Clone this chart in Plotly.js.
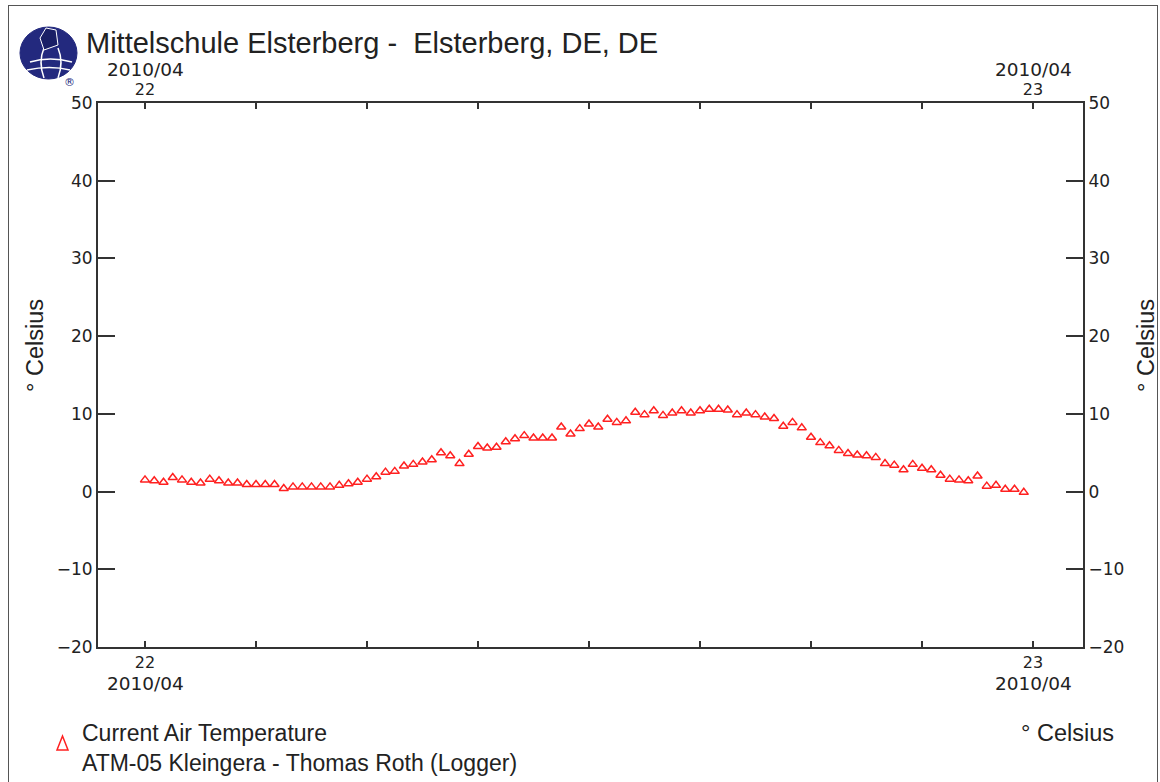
<!DOCTYPE html>
<html><head><meta charset="utf-8">
<script src="https://cdn.plot.ly/plotly-3.0.1.min.js"></script>
<style>
html,body{margin:0;padding:0;background:#fff;overflow:hidden;}
#frame{position:absolute;left:8px;top:5px;width:1148px;height:800px;border:1px solid #555;border-bottom:none;}
#chart{position:absolute;left:0;top:0;width:1160px;height:782px;}
</style></head><body>
<div id="frame"></div>
<div id="chart"></div>
<script>
// ---- data ----
const startTime = Date.UTC(2010, 3, 22, 0, 0);   // 2010-04-22 00:00
const stepMinutes = 15;
const temperature = [
  1.5,1.4,1.2,1.8,1.5,1.2,1.1,1.6,1.4,1.1,1.1,0.9,0.9,0.9,0.9,0.4,
  0.6,0.6,0.6,0.6,0.6,0.8,1.0,1.2,1.6,1.9,2.5,2.6,3.3,3.5,3.8,4.1,
  5.0,4.6,3.6,4.8,5.8,5.6,5.7,6.4,6.8,7.2,6.9,6.9,6.9,8.3,7.4,8.1,
  8.7,8.3,9.3,8.9,9.1,10.2,9.9,10.4,9.8,10.1,10.4,10.1,10.4,10.6,10.6,10.5,
  9.9,10.1,9.9,9.6,9.4,8.4,8.9,8.2,7.0,6.3,5.9,5.3,4.9,4.7,4.6,4.4,
  3.6,3.4,2.8,3.5,3.0,2.8,2.1,1.6,1.5,1.4,2.0,0.7,0.8,0.3,0.3,-0.1
];
const tickTimes = ['2010-04-22 00:00','2010-04-22 03:00','2010-04-22 06:00','2010-04-22 09:00',
  '2010-04-22 12:00','2010-04-22 15:00','2010-04-22 18:00','2010-04-22 21:00','2010-04-23 00:00'];
const tickText = ['22','','','','','','','','23'];
const monthLabel = '2010/04';
const yTicks = [-20,-10,0,10,20,30,40,50];
const titleText = 'Mittelschule Elsterberg -\u00A0 Elsterberg, DE, DE';
const seriesName = 'Current Air Temperature';
const sourceName = 'ATM-05 Kleingera - Thomas Roth (Logger)';
const unitLabel = '\u00B0 Celsius';

// ---- helpers ----
function fmt(ms){ const d=new Date(ms); const p=n=>String(n).padStart(2,'0');
  return d.getUTCFullYear()+'-'+p(d.getUTCMonth()+1)+'-'+p(d.getUTCDate())+' '+p(d.getUTCHours())+':'+p(d.getUTCMinutes())+':'+p(d.getUTCSeconds()); }
const times = temperature.map((_, i) => fmt(startTime + i*stepMinutes*60000));
const DAY = 86400000;
const xRange = [fmt(startTime - 47/888*DAY), fmt(startTime + DAY + 50/888*DAY)];

const L=98, T=103, W=985, H=544;
const px = x => (x-L)/W, py = y => (T+H-y)/H;

const tickFont = {family:'DejaVu Sans, sans-serif', size:17, color:'#222'};
const xTickFont = {family:'DejaVu Sans, sans-serif', size:16, color:'#222'};
const monthFont = {family:'DejaVu Sans, sans-serif', size:18.5, color:'#222'};
const txtFont = {family:'Liberation Sans, Arial, sans-serif', size:23, color:'#222'};
const unitFont = {family:'Liberation Sans, Arial, sans-serif', size:23.5, color:'#222'};
const axisCommon = {showline:true, linecolor:'#333', linewidth:2, showgrid:false, zeroline:false,
  tickcolor:'#333', tickwidth:1.5, tickfont:tickFont, fixedrange:true};

const traces = [
  {x:times, y:temperature, type:'scatter', mode:'markers', name:seriesName, xaxis:'x', yaxis:'y',
   marker:{symbol:'triangle-up-open', size:8, color:'#ff2020', line:{width:1.5, color:'#ff2020'}}, hoverinfo:'x+y'},
  {x:[times[0]], y:[null], type:'scatter', mode:'markers', xaxis:'x2', yaxis:'y2', showlegend:false, hoverinfo:'skip'}
];

const layout = {
  width:1160, height:782, margin:{l:L, r:1160-L-W, t:T, b:782-T-H},
  paper_bgcolor:'rgba(0,0,0,0)', plot_bgcolor:'#fff', showlegend:false,
  xaxis: Object.assign({}, axisCommon, {type:'date', range:xRange, tickmode:'array', tickvals:tickTimes, ticktext:tickText, ticks:'inside', ticklen:6, tickfont:xTickFont}),
  xaxis2: Object.assign({}, axisCommon, {type:'date', range:xRange, tickmode:'array', tickvals:tickTimes, ticktext:tickText, ticks:'inside', ticklen:6, tickfont:xTickFont, overlaying:'x', side:'top', anchor:'y'}),
  yaxis: Object.assign({}, axisCommon, {range:[-20,50], tickmode:'array', tickvals:yTicks, ticks:'inside', ticklen:17}),
  yaxis2: Object.assign({}, axisCommon, {range:[-20,50], tickmode:'array', tickvals:yTicks, ticks:'inside', ticklen:17, overlaying:'y', side:'right', anchor:'x'}),
  annotations: [
    {text:titleText, xref:'paper', yref:'paper', x:px(84), y:py(43), xanchor:'left', yanchor:'middle', showarrow:false,
     font:{family:'Liberation Sans, Arial, sans-serif', size:29, color:'#222'}},
    {text:monthLabel, xref:'x', yref:'paper', x:tickTimes[0], y:py(683), xanchor:'center', yanchor:'middle', showarrow:false, font:monthFont},
    {text:monthLabel, xref:'x', yref:'paper', x:tickTimes[8], y:py(683), xanchor:'center', yanchor:'middle', showarrow:false, font:monthFont},
    {text:monthLabel, xref:'x', yref:'paper', x:tickTimes[0], y:py(69.5), xanchor:'center', yanchor:'middle', showarrow:false, font:monthFont},
    {text:monthLabel, xref:'x', yref:'paper', x:tickTimes[8], y:py(69.5), xanchor:'center', yanchor:'middle', showarrow:false, font:monthFont},
    {text:unitLabel, xref:'paper', yref:'paper', x:px(35), y:py(346), textangle:-90, xanchor:'center', yanchor:'middle', showarrow:false, font:unitFont},
    {text:unitLabel, xref:'paper', yref:'paper', x:px(1146), y:py(346), textangle:-90, xanchor:'center', yanchor:'middle', showarrow:false, font:unitFont},
    {text:seriesName, xref:'paper', yref:'paper', x:px(80), y:py(733), xanchor:'left', yanchor:'middle', showarrow:false, font:txtFont},
    {text:sourceName, xref:'paper', yref:'paper', x:px(80), y:py(763), xanchor:'left', yanchor:'middle', showarrow:false, font:txtFont},
    {text:unitLabel, xref:'paper', yref:'paper', x:px(1116), y:py(733), xanchor:'right', yanchor:'middle', showarrow:false, font:unitFont},
    {text:'\u00AE', xref:'paper', yref:'paper', x:px(69), y:py(83), xanchor:'center', yanchor:'middle', showarrow:false,
     font:{family:'DejaVu Sans, sans-serif', size:11, color:'#23297e'}}
  ],
  shapes: [
    // legend triangle
    {type:'path', xref:'paper', yref:'paper', path:`M ${px(57)},${py(750)} L ${px(68)},${py(750)} L ${px(62.5)},${py(736)} Z`,
     line:{color:'#ff2020', width:1.5}, fillcolor:'rgba(0,0,0,0)'},
    // logo globe
    {type:'circle', xref:'paper', yref:'paper', x0:px(20), x1:px(77), y0:py(79), y1:py(27), fillcolor:'#23297e', line:{color:'#23297e', width:1}},
    {type:'path', xref:'paper', yref:'paper', path:`M ${px(30)},${py(62)} Q ${px(50)},${py(56)} ${px(72)},${py(62)}`, line:{color:'#fff', width:1.5}},
    {type:'path', xref:'paper', yref:'paper', path:`M ${px(27)},${py(70)} Q ${px(50)},${py(65)} ${px(70)},${py(70)}`, line:{color:'#fff', width:1.5}},
    {type:'path', xref:'paper', yref:'paper', path:`M ${px(44)},${py(78)} Q ${px(38)},${py(62)} ${px(44)},${py(48)}`, line:{color:'#fff', width:1.5}},
    {type:'path', xref:'paper', yref:'paper', path:`M ${px(58)},${py(78)} Q ${px(64)},${py(62)} ${px(58)},${py(48)}`, line:{color:'#fff', width:1.5}},
    {type:'path', xref:'paper', yref:'paper', path:`M ${px(40)},${py(38)} L ${px(46)},${py(28)} L ${px(56)},${py(30)} L ${px(58)},${py(45)} L ${px(44)},${py(50)} Z`,
     fillcolor:'#1a1f66', line:{color:'#fff', width:1}}
  ]
};

Plotly.newPlot('chart', traces, layout, {displayModeBar:false, staticPlot:false});
</script>
</body></html>
